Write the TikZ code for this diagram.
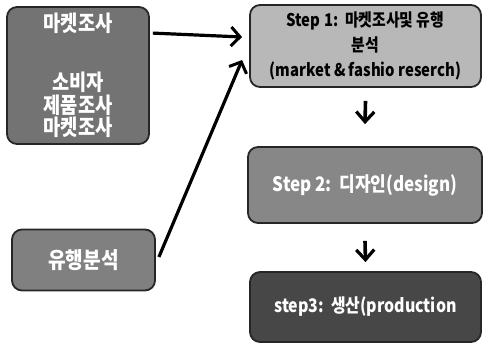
\documentclass[tikz,border=0pt]{standalone}
\usepackage{fontspec}
\setmainfont{Noto Sans CJK KR}[FakeStretch=0.85]
\usetikzlibrary{arrows.meta}
\begin{document}
\begin{tikzpicture}[x=1pt,y=-1pt,
  box/.style={draw=black!85,line width=1.8pt,rounded corners=10pt,inner sep=0pt,align=center,font=\bfseries},
  conn/.style={line width=3.2pt,-{Straight Barb[length=9pt,width=19pt,line width=3pt]}},
  down/.style={line width=3.6pt,-{Straight Barb[length=10pt,width=18pt,line width=3.2pt]}}]
\useasboundingbox (0,0) rectangle (486,351);
\node[box,fill=black!55,text=white,minimum width=142pt,minimum height=137pt,font=\bfseries\fontsize{22}{22.5}\selectfont] (A) at (78,75.5)
  {마켓조사\\[37pt]소비자\\제품조사\\마켓조사};
\node[box,fill=black!50,text=white,minimum width=143pt,minimum height=61pt,font=\bfseries\fontsize{22.5}{18}\selectfont] (B) at (83.5,260) {유행분석};
\node[box,fill=black!28,text=black,minimum width=231pt,minimum height=82pt,font=\bfseries\fontsize{17.5}{25}\selectfont] (S1) at (365.5,46)
  {Step 1:\ \ 마켓조사및 유행\\분석\\(market \& fashio reserch)};
\node[box,fill=black!47,text=white,minimum width=234pt,minimum height=76pt,font=\bfseries\fontsize{20}{18}\selectfont] (S2) at (365,185)
  {Step 2:\ \ 디자인(design)};
\node[box,fill=black!72,text=white,minimum width=231pt,minimum height=70pt,font=\bfseries\fontsize{18.7}{18}\selectfont] (S3) at (365.5,307)
  {step3:\ \ 생산(production};
\draw[conn] ([shift={(3pt,-27pt)}]A.north east) -- ([shift={(-7pt,9pt)}]S1.west);
\draw[conn] ([shift={(3pt,3pt)}]B.east) -- ([shift={(-7pt,-14pt)}]S1.west);
\draw[down] ([yshift=-13pt]S1.south) -- ([yshift=22pt]S2.north);
\draw[down] ([yshift=-17pt]S2.south) -- ([yshift=9pt]S3.north);
\end{tikzpicture}
\end{document}
